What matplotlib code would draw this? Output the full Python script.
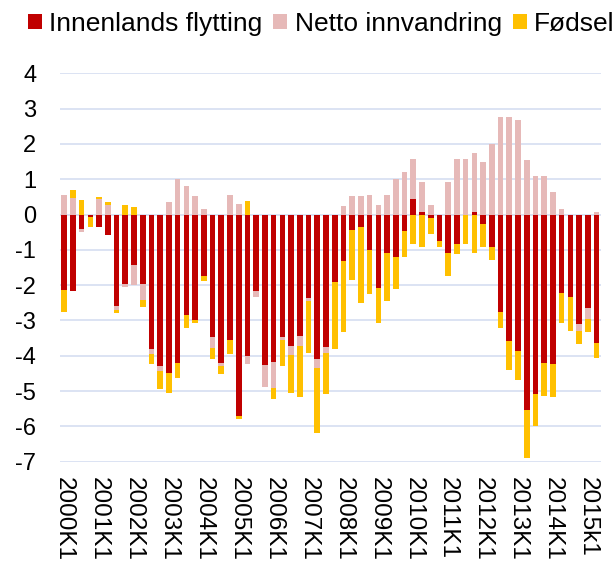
import numpy as np
import matplotlib
matplotlib.use("Agg")
import matplotlib.pyplot as plt
from matplotlib.patches import Patch

plt.rcParams['font.family'] = ['Liberation Sans', 'DejaVu Sans']

# Quarterly components of population change, 2000K1 - 2015K2
innenlands = [-2.14, -2.16, -0.42, -0.07, -0.36, -0.57, -2.59, -1.98, -1.42, -1.98,
              -3.82, -4.29, -4.48, -4.21, -2.85, -2.99, -1.74, -3.47, -4.21, -3.56,
              -5.70, -4.00, -2.17, -4.25, -4.18, -3.47, -3.73, -3.45, -2.35, -4.10,
              -3.74, -1.92, -1.32, -0.44, -0.36, -0.99, -2.09, -1.09, -1.19, -0.46,
              0.44, 0.07, -0.09, -0.74, -1.10, -0.83, 0.00, 0.07, -0.28, -0.92,
              -2.76, -3.58, -3.87, -5.54, -5.07, -4.21, -4.24, -2.21, -2.33, -3.11,
              -2.66, -3.65]
netto_innvandring = [0.55, 0.48, -0.07, 0.00, 0.43, 0.27, -0.12, -0.07, -0.57, -0.44,
                     -0.14, -0.15, 0.35, 1.00, 0.82, 0.52, 0.15, -0.31, -0.09, 0.55,
                     0.29, -0.24, -0.16, -0.63, -0.73, -0.09, -0.25, -0.26, -0.09, -0.26,
                     -0.18, 0.00, 0.25, 0.53, 0.53, 0.54, 0.27, 0.54, 1.00, 1.20,
                     1.12, 0.85, 0.26, 0.00, 0.92, 1.56, 1.56, 1.68, 1.48, 2.01,
                     2.75, 2.75, 2.67, 1.54, 1.08, 1.10, 0.65, 0.17, 0.00, -0.19,
                     -0.31, 0.08]
fodsel = [-0.62, 0.21, 0.41, -0.28, 0.07, 0.08, -0.07, 0.27, 0.21, -0.20,
          -0.27, -0.49, -0.56, -0.43, -0.37, -0.09, -0.14, -0.30, -0.23, -0.38,
          -0.08, 0.39, 0.00, 0.00, -0.30, -0.72, -1.06, -1.47, -1.49, -1.82,
          -1.17, -1.90, -2.00, -1.42, -2.14, -1.27, -0.98, -1.35, -0.92, -0.73,
          -0.84, -0.92, -0.46, -0.18, -0.64, -0.28, -0.83, -1.10, -0.64, -0.36,
          -0.44, -0.83, -0.82, -1.35, -0.92, -0.92, -0.92, -0.86, -0.96, -0.37,
          -0.37, -0.40]

series_names = ["Innenlands flytting", "Netto innvandring", "Fødsel"]
series_colors = ["#C00000", "#E6B9B8", "#FFC000"]

tick_labels = ["2000K1", "2001K1", "2002K1", "2003K1", "2004K1", "2005K1",
               "2006K1", "2007K1", "2008K1", "2009K1", "2010K1", "2011K1",
               "2012K1", "2013K1", "2014K1", "2015k1"]

n = len(innenlands)
x = np.arange(n)

fig = plt.figure(figsize=(6.13, 5.63), dpi=100)
ax = fig.add_axes([0.0976, 0.1799, 0.8827, 0.6899])

pos_base = np.zeros(n)
neg_base = np.zeros(n)
for vals, color in zip([innenlands, netto_innvandring, fodsel], series_colors):
    v = np.asarray(vals, dtype=float)
    base = np.where(v >= 0, pos_base, neg_base)
    ax.bar(x, v, bottom=base, width=0.65, color=color, linewidth=0, zorder=3)
    pos_base = pos_base + np.clip(v, 0, None)
    neg_base = neg_base + np.clip(v, None, 0)

ax.set_xlim(-0.5, n - 0.5)
ax.set_ylim(-7, 4)
ax.set_yticks(np.arange(-7, 5, 1))
ax.set_yticklabels([str(t) for t in range(-7, 5)], fontsize=17)
ax.set_xticks(x[::4])
ax.set_xticklabels(tick_labels, rotation=270, va='top', ha='center', fontsize=17.5)

ax.grid(axis='y', color='#D9E1F2', linewidth=1.3, zorder=0)
ax.grid(axis='x', visible=False)
for s in ax.spines.values():
    s.set_visible(False)
ax.tick_params(axis='both', length=0, colors='black')
ax.tick_params(axis='y', pad=17)
ax.tick_params(axis='x', pad=11)

handles = [Patch(facecolor=c, edgecolor='none') for c in series_colors]
fig.legend(handles, series_names, loc='center left', bbox_to_anchor=(0.0457, 1 - 24 / 563),
           ncol=3, frameon=False, fontsize=19, handlelength=0.53, handleheight=0.53,
           handletextpad=0.27, columnspacing=0.42, borderaxespad=0, borderpad=0)

fig.savefig("out.png", dpi=100)
